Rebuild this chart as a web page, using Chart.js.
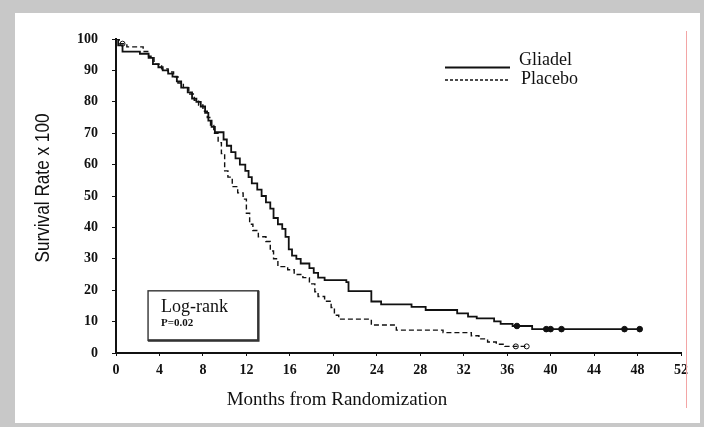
<!DOCTYPE html>
<html>
<head>
<meta charset="utf-8">
<script src="https://cdn.jsdelivr.net/npm/chart.js@4/dist/chart.umd.min.js"></script>
<style>
  html, body { margin: 0; padding: 0; }
  body { width: 704px; height: 427px; background: #c8c8c8; position: relative; overflow: hidden; }
  #frame { position: absolute; left: 15px; top: 13px; width: 685px; height: 410px; background: #fff; }
  #redline { position: absolute; left: 686px; top: 31px; width: 1px; height: 377px; background: #f3a5a5; }
</style>
</head>
<body>
<div id="frame"><canvas id="grafica" width="685" height="410"></canvas></div>
<div id="redline"></div>
<script>
// Kaplan-Meier steps: month of each drop and survival (x100) after it
const gliadelMonths = [0, 0.2, 0.6, 2.2, 3.0, 3.4, 3.9, 4.3, 4.8, 5.2, 5.6, 6.0, 6.6, 7.0, 7.4, 7.8, 8.2, 8.5, 8.8, 9.1,
  9.9, 10.2, 10.6, 11.0, 11.4, 11.9, 12.2, 12.5, 13.0, 13.4, 13.8, 14.2, 14.5, 14.9, 15.3, 15.6, 15.9, 16.2, 16.6, 17.0,
  17.8, 18.2, 18.6, 19.2, 21.2, 21.4, 23.5, 24.4, 27.2, 28.5, 31.4, 32.4, 33.2, 34.8, 35.4, 36.5, 38.3, 48.3];
const gliadelSurvival = [100, 98, 96, 95.3, 94, 92, 91, 90, 89, 88, 86.5, 84.5, 83, 81, 80, 78.5, 76.5, 74, 72, 70.3,
  68, 66, 64, 62, 60, 58, 56, 54, 52, 50, 48, 46, 43, 41, 39.5, 37, 33, 31, 30, 28.5,
  27, 25.5, 24, 23.2, 22.6, 19.7, 16.4, 15.5, 14.7, 13.7, 12.6, 11.6, 11, 10.1, 9.3, 8.6, 7.6, 7.6];

const placeboMonths = [0, 0.3, 1.0, 2.5, 3.0, 3.5, 4.2, 4.8, 5.3, 5.7, 6.2, 6.7, 7.2, 7.6, 8.0, 8.4, 8.7, 9.0, 9.4, 9.7,
  10.0, 10.3, 10.7, 11.2, 11.7, 12.0, 12.3, 12.6, 13.1, 13.8, 14.2, 14.5, 14.9, 15.8, 16.4, 17.2, 17.8, 18.3, 18.6, 19.2,
  19.8, 20.1, 20.5, 23.5, 25.8, 30.1, 32.7, 33.4, 34.2, 35.0, 35.8, 37.8];
const placeboSurvival = [100, 98.5, 97.5, 96, 94.5, 92, 90.5, 89.5, 88, 86, 84.5, 82.5, 80.5, 79, 77, 75, 72.5, 70, 67, 63.5,
  58, 56, 53, 51, 49, 44.5, 41, 39, 37, 35.5, 32.5, 30, 27.5, 26.5, 25, 24, 22, 19.5, 18, 16.5,
  14.5, 12, 10.8, 8.9, 7.3, 6.5, 5.5, 4.5, 3.5, 2.8, 2.1, 2.1];

// censored observations
const gliadelCensorMonths = [36.9, 39.6, 40.0, 41.0, 46.8, 48.2];
const gliadelCensorSurvival = [8.6, 7.6, 7.6, 7.6, 7.6, 7.6];
const placeboCensorMonths = [0.6, 36.8, 37.8];
const placeboCensorSurvival = [98.5, 2.1, 2.1];

const xTicks = [0, 4, 8, 12, 16, 20, 24, 28, 32, 36, 40, 44, 48, 52];
const yTicks = [0, 10, 20, 30, 40, 50, 60, 70, 80, 90, 100];

const series = ['Gliadel', 'Placebo'];
const pValue = 'P=0.02';

function puntos(xs, ys) {
  return xs.map((v, i) => ({ x: v, y: ys[i] }));
}

const INK = '#111';

const decor = {
  id: 'decor',
  afterDraw(chart) {
    const ctx = chart.ctx;
    const sx = chart.scales.x, sy = chart.scales.y;
    ctx.save();
    ctx.fillStyle = INK;
    ctx.strokeStyle = INK;

    // y axis title (slightly condensed sans)
    ctx.save();
    ctx.translate(28, 175);
    ctx.rotate(-Math.PI / 2);
    ctx.scale(0.86, 1);
    ctx.font = '20px "Liberation Sans", Arial, sans-serif';
    ctx.textAlign = 'center';
    ctx.textBaseline = 'middle';
    ctx.fillText('Survival Rate x 100', 0, 0);
    ctx.restore();

    // x axis title
    ctx.font = '19px "Liberation Serif", "Times New Roman", serif';
    ctx.textAlign = 'center';
    ctx.textBaseline = 'middle';
    ctx.fillText('Months from Randomization', 322, 387);

    // legend
    ctx.textAlign = 'left';
    ctx.font = '18px "Liberation Serif", "Times New Roman", serif';
    ctx.lineWidth = 1.8;
    ctx.setLineDash([]);
    ctx.beginPath(); ctx.moveTo(430, 54.5); ctx.lineTo(495, 54.5); ctx.stroke();
    ctx.fillText(series[0], 504, 47);
    ctx.lineWidth = 1.4;
    ctx.setLineDash([3, 2]);
    ctx.beginPath(); ctx.moveTo(430, 67); ctx.lineTo(495, 67); ctx.stroke();
    ctx.setLineDash([]);
    ctx.fillText(series[1], 506, 66);

    // log-rank box
    const bx = sx.getPixelForValue(2.95), bx2 = sx.getPixelForValue(13.1);
    const by = sy.getPixelForValue(19.8), by2 = sy.getPixelForValue(4.0);
    ctx.lineWidth = 1.4;
    ctx.strokeStyle = '#333';
    ctx.strokeRect(bx, by, bx2 - bx, by2 - by);
    ctx.lineWidth = 2.4;
    ctx.beginPath(); ctx.moveTo(bx, by2); ctx.lineTo(bx2, by2); ctx.lineTo(bx2, by); ctx.stroke();
    ctx.font = '18px "Liberation Serif", "Times New Roman", serif';
    ctx.fillText('Log-rank', bx + 13, by + 16);
    ctx.font = 'bold 11px "Liberation Serif", "Times New Roman", serif';
    ctx.fillText(pValue, bx + 13, by + 32);
    ctx.restore();
  }
};

new Chart(document.getElementById('grafica').getContext('2d'), {
  type: 'line',
  data: {
    datasets: [
      {
        label: series[0],
        data: puntos(gliadelMonths, gliadelSurvival),
        stepped: true,
        borderColor: INK,
        borderWidth: 1.8,
        pointRadius: 0,
        fill: false
      },
      {
        label: series[1],
        data: puntos(placeboMonths, placeboSurvival),
        stepped: true,
        borderColor: INK,
        borderWidth: 1.4,
        borderDash: [5, 3],
        pointRadius: 0,
        fill: false
      },
      {
        label: series[0] + ' censored',
        data: puntos(gliadelCensorMonths, gliadelCensorSurvival),
        showLine: false,
        pointRadius: 2.8,
        pointBackgroundColor: INK,
        pointBorderColor: INK,
        pointBorderWidth: 1
      },
      {
        label: series[1] + ' censored',
        data: puntos(placeboCensorMonths, placeboCensorSurvival),
        showLine: false,
        pointRadius: 2.5,
        pointBackgroundColor: '#fff',
        pointBorderColor: INK,
        pointBorderWidth: 1
      }
    ]
  },
  options: {
    responsive: false,
    animation: false,
    layout: { padding: { left: 0, right: 19, top: 26, bottom: 0 } },
    plugins: { legend: { display: false }, tooltip: { enabled: false } },
    scales: {
      x: {
        type: 'linear',
        min: 0,
        max: 52,
        afterBuildTicks: s => { s.ticks = xTicks.map(v => ({ value: v })); },
        afterFit: s => { s.height = 70; },
        border: { display: true, color: INK, width: 2 },
        grid: { drawOnChartArea: false, drawTicks: true, tickLength: 3, color: INK },
        ticks: {
          padding: 6,
          color: INK,
          maxRotation: 0,
          font: { family: '"Liberation Serif", "Times New Roman", serif', size: 14, weight: 'bold' }
        }
      },
      y: {
        type: 'linear',
        min: 0,
        max: 100,
        afterBuildTicks: s => { s.ticks = yTicks.map(v => ({ value: v })); },
        afterFit: s => { s.width = 101; },
        border: { display: true, color: INK, width: 2 },
        grid: { drawOnChartArea: false, drawTicks: true, tickLength: 4, color: INK },
        ticks: {
          padding: 14,
          color: INK,
          font: { family: '"Liberation Serif", "Times New Roman", serif', size: 14, weight: 'bold' }
        }
      }
    }
  },
  plugins: [decor]
});
</script>
</body>
</html>
